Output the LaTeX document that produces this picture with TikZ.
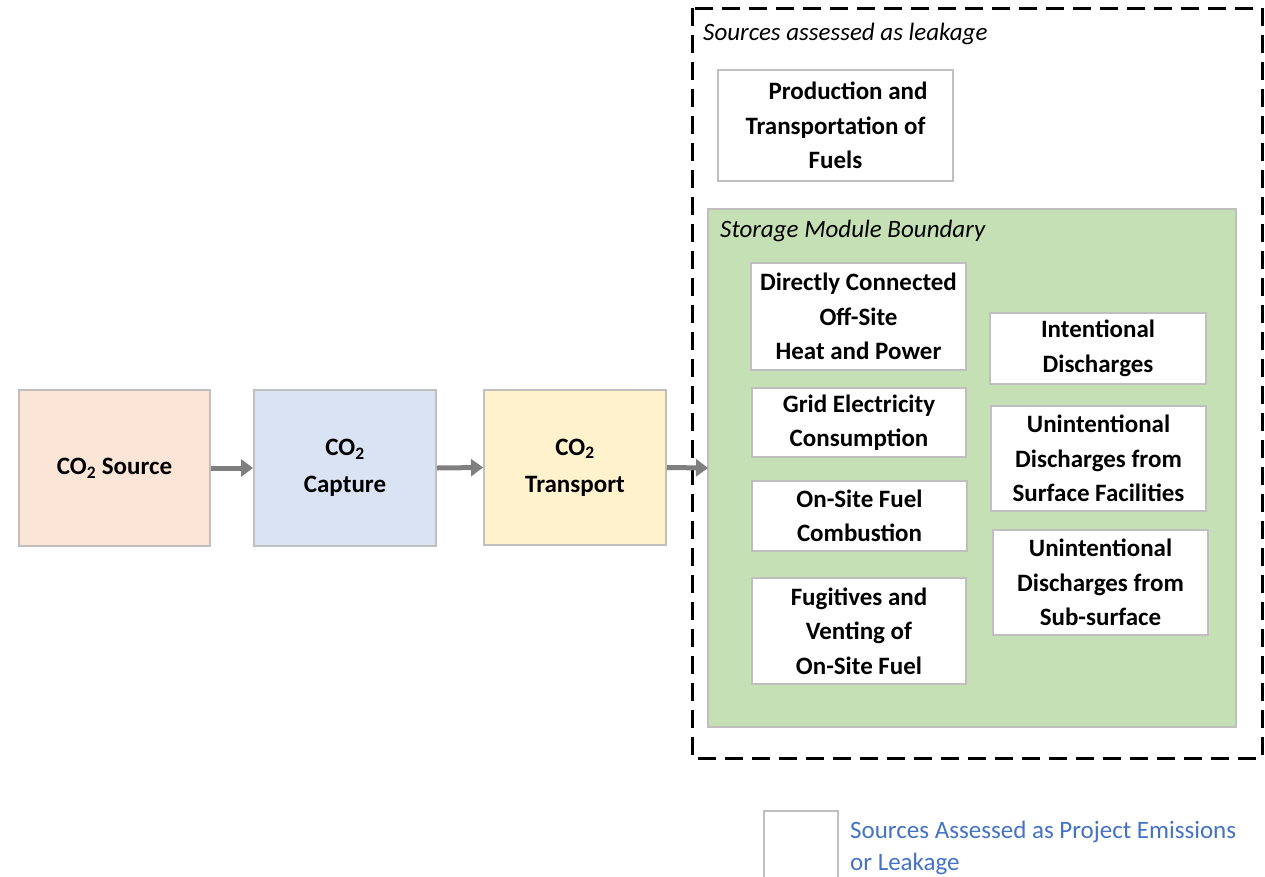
\documentclass[tikz,border=0pt]{standalone}
\usepackage{fontspec}
\setmainfont{Carlito}
\usetikzlibrary{arrows.meta}
\definecolor{boxgray}{HTML}{BFBFBF}
\definecolor{arrowgray}{HTML}{7F7F7F}
\definecolor{srcfill}{HTML}{FBE5D6}
\definecolor{capfill}{HTML}{DAE3F3}
\definecolor{trnfill}{HTML}{FFF2CC}
\definecolor{storfill}{HTML}{C5E0B4}
\definecolor{legblue}{HTML}{4472C4}
\tikzset{
  box/.style={draw=boxgray, line width=2pt, fill=white, align=center, inner sep=0pt,
    font=\fontsize{25}{34.5}\selectfont\bfseries},
  stagebox/.style={box, font=\fontsize{25}{37}\selectfont\bfseries},
  flow/.style={draw=arrowgray, line width=5pt, -{Triangle[length=12pt,width=17pt]}},
  caption/.style={anchor=west, inner sep=0pt, font=\fontsize{25}{28}\selectfont\itshape}
}
\newcommand{\boxat}[6]{%
  \node[#1, minimum width=#4-#2, minimum height=#5-#3] (#6) at ({(#2+#4)/2},{(#3+#5)/2})}
\begin{document}
\begin{tikzpicture}[x=1pt,y=-1pt]
\useasboundingbox (0,0) rectangle (1265,876);
\clip (0,0) rectangle (1265,876);

% process chain
\boxat{stagebox, fill=srcfill}{19}{390}{210}{546}{src} {\raisebox{-2pt}{CO\textsubscript{2} Source}};
\boxat{stagebox, fill=capfill}{254}{390}{436}{546}{cap} {\raisebox{-4pt}{CO\textsubscript{2}}\\\raisebox{-4pt}{Capture}};
\boxat{stagebox, fill=trnfill}{484}{390}{666}{545}{trn} {\raisebox{-4pt}{CO\textsubscript{2}}\\\raisebox{-4pt}{Transport}};

% leakage boundary
\draw[black, line width=3pt, dash pattern=on 18pt off 9pt] (692,8) rectangle (1262,758);
\node[caption] (leaklbl) at (703,34) {Sources assessed as leakage};
\boxat{box}{718}{70}{953}{181}{fuels} {\hspace*{1em}Production and\\Transportation of\\Fuels};

% storage module
\draw[boxgray, line width=2pt, fill=storfill] (708,209) rectangle (1236,727);
\coordinate (stor) at (708,468);
\node[caption] (storlbl) at (720,231) {Storage Module Boundary};

\boxat{box}{751}{263}{966}{370}{offsite} {Directly Connected\\Off-Site\\Heat and Power};
\boxat{box}{752}{388}{966}{457}{grid} {Grid Electricity\\Consumption};
\boxat{box}{752}{481}{967}{551}{comb} {On-Site Fuel\\Combustion};
\boxat{box}{752}{578}{966}{684}{fug} {Fugitives and\\Venting of\\On-Site Fuel};

\boxat{box}{990}{313}{1206}{384}{intent} {Intentional\\Discharges};
\boxat{box}{991}{406}{1206}{511}{surf} {Unintentional\\Discharges from\\Surface Facilities};
\boxat{box}{993}{530}{1208}{635}{sub} {Unintentional\\Discharges from\\Sub-surface};

% arrows between stages
\draw[flow] (src.east) -- (cap.west);
\draw[flow] (cap.east) -- (trn.west);
\draw[flow] (trn.east) -- (stor);

% legend
\boxat{box}{764}{811}{838}{890}{legbox} {};
\node[anchor=north west, inner sep=0pt, align=left, text=legblue,
  font=\fontsize{25}{32}\selectfont] (legtxt) at (850,821)
  {Sources Assessed as Project Emissions\\or Leakage};
\end{tikzpicture}
\end{document}
